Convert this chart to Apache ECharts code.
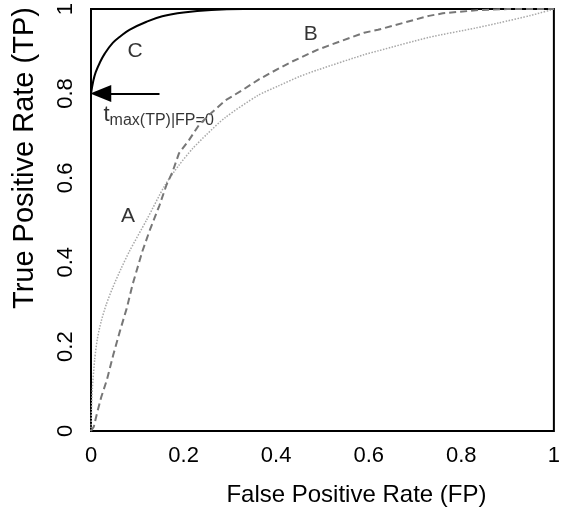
<!DOCTYPE html>
<html>
<head>
<meta charset="utf-8">
<script src="https://cdn.jsdelivr.net/npm/echarts@6/dist/echarts.min.js"></script>
<style>
html,body{margin:0;padding:0;background:#fff;}
#chart{width:563px;height:513px;}
</style>
</head>
<body>
<div id="chart"></div>
<script>
// Curve A (dotted): [FP, TP]
var curveA = [
  [0,0],[0.001,0.05],[0.003,0.10],[0.008,0.17],[0.014,0.22],[0.022,0.26],[0.033,0.30],
  [0.047,0.34],[0.065,0.385],[0.083,0.426],[0.12,0.50],[0.16,0.583],[0.19,0.63],
  [0.22,0.67],[0.25,0.703],[0.29,0.743],[0.36,0.795],[0.405,0.818],[0.45,0.84],
  [0.49,0.856],[0.59,0.892],[0.62,0.901],[0.73,0.933],[0.83,0.955],[0.88,0.967],
  [0.95,0.985],[1,1]
];
// Curve B (dashed): [FP, TP]
var curveB = [
  [0,0],[0.006,0.01],[0.013,0.042],[0.022,0.08],[0.034,0.12],[0.048,0.18],[0.062,0.235],
  [0.077,0.29],[0.09,0.348],[0.111,0.426],[0.126,0.473],[0.148,0.535],[0.163,0.583],
  [0.176,0.614],[0.19,0.658],[0.212,0.69],[0.233,0.725],[0.261,0.755],[0.291,0.784],
  [0.33,0.81],[0.362,0.833],[0.39,0.85],[0.433,0.875],[0.49,0.904],[0.512,0.913],
  [0.59,0.944],[0.62,0.951],[0.73,0.984],[0.76,0.99],[0.84,0.998],[0.9,1],[1,1]
];
// Curve C (solid): [FP, TP]
var curveC = [
  [0,0.8],[0.005,0.83],[0.01,0.85],[0.019,0.873],[0.03,0.895],[0.047,0.92],[0.065,0.937],
  [0.083,0.951],[0.12,0.97],[0.154,0.983],[0.2,0.992],[0.26,0.998],[0.33,1],[0.4,1]
];
// Curve name labels: [FP, TP, text]
var curveLabels = [
  [0.095, 0.90, 'C'],
  [0.475, 0.94, 'B'],
  [0.08, 0.51, 'A']
];
// Arrow: from [FP, TP] to [FP, TP]
var arrowFrom = [0.148, 0.8];
var arrowTo = [0.021, 0.8];
// Threshold annotation anchor [FP, TP]
var tAnchor = [0.027, 0.754];
var xTicks = [0, 0.2, 0.4, 0.6, 0.8, 1];
var yTicks = [0, 0.2, 0.4, 0.6, 0.8, 1];

var FONT = 'Liberation Sans';
var chart = echarts.init(document.getElementById('chart'));
chart.setOption({
  animation: false,
  backgroundColor: '#fff',
  grid: {left: 91, right: 5, top: 6, bottom: 82, show: true, borderColor: '#000', borderWidth: 2},
  xAxis: {
    type: 'value', min: 0, max: 1, interval: 0.2,
    name: 'False Positive Rate (FP)', nameLocation: 'middle', nameGap: 52,
    nameTextStyle: {fontFamily: FONT, fontSize: 24, color: '#000', padding: [0, 0, 0, 68]},
    axisLine: {show: false}, axisTick: {show: false}, splitLine: {show: false},
    axisLabel: {fontFamily: FONT, fontSize: 22, color: '#000', margin: 14,
      formatter: function (v) { return xTicks.indexOf(v) >= 0 ? String(v) : ''; }}
  },
  yAxis: {
    type: 'value', min: 0, max: 1, interval: 0.2,
    name: 'True Positive Rate (TP)', nameLocation: 'middle', nameGap: 52,
    nameTextStyle: {fontFamily: FONT, fontSize: 29, color: '#000', padding: [0, 0, 0, 124]},
    axisLine: {show: false}, axisTick: {show: false}, splitLine: {show: false},
    axisLabel: {fontFamily: FONT, fontSize: 22, color: '#000', margin: 14, rotate: 90,
      formatter: function (v) { return yTicks.indexOf(v) >= 0 ? String(v) : ''; }}
  },
  series: [
    {type: 'line', data: curveA, showSymbol: false, smooth: 0.25,
      lineStyle: {color: '#a8a8a8', width: 1.5, type: [1.5, 1.5]}},
    {type: 'line', data: curveB, showSymbol: false,
      lineStyle: {color: '#777', width: 2, type: [7, 4]}},
    {type: 'line', data: curveC, showSymbol: false, smooth: 0.4,
      lineStyle: {color: '#000', width: 2},
      markLine: {
        silent: true, symbol: ['none', 'triangle'], symbolSize: [17, 21],
        label: {show: false},
        lineStyle: {color: '#000', width: 2, type: 'solid'},
        itemStyle: {color: '#000'},
        data: [[{coord: arrowFrom}, {coord: arrowTo}]]
      }},
    {type: 'scatter', symbolSize: 0,
      data: curveLabels.map(function (d) { return [d[0], d[1], d[2]]; }),
      label: {show: true, position: 'inside', fontFamily: FONT, fontSize: 21, color: '#000',
        formatter: function (p) { return p.data[2]; }}},
    {type: 'scatter', symbolSize: 0, data: [tAnchor],
      label: {show: true, position: 'right', distance: 0,
        formatter: '{t|t}{s|max(TP)|FP=0}',
        rich: {
          t: {fontFamily: FONT, fontSize: 22, color: '#000', verticalAlign: 'bottom', lineHeight: 26},
          s: {fontFamily: FONT, fontSize: 16, color: '#000', verticalAlign: 'bottom', lineHeight: 26, padding: [0, 0, -3, 0]}
        }}}
  ]
});
</script>
</body>
</html>
